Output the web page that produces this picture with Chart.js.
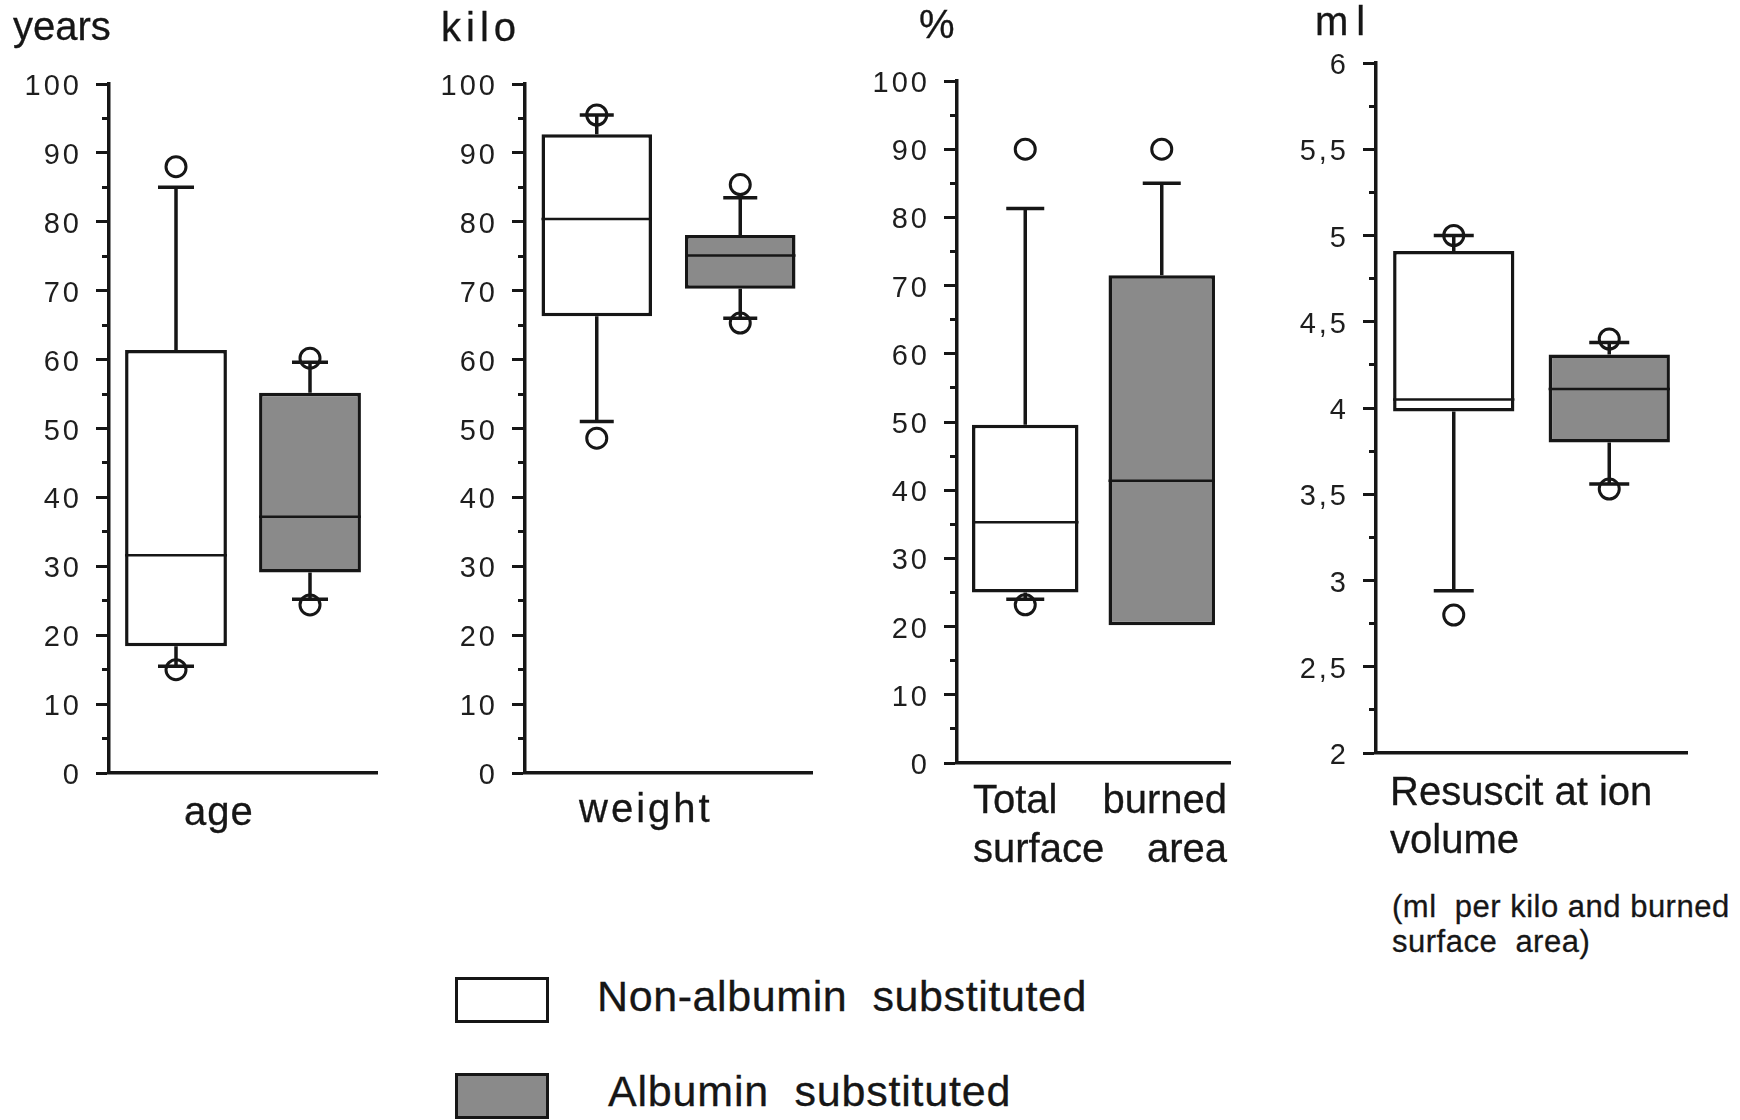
<!DOCTYPE html>
<html>
<head>
<meta charset="utf-8">
<title>Albumin substitution – patient characteristics</title>
<script src="https://cdn.jsdelivr.net/npm/chart.js@4"></script>
<style>
  body { margin: 0; background: #fff; }
  #page { position: relative; width: 1740px; height: 1120px; overflow: hidden;
          font-family: "Liberation Sans", Arial, sans-serif; color: #161616; }
  #page canvas { position: absolute; top: 0; }
  .lbl { position: absolute; white-space: pre; line-height: 1; -webkit-text-stroke: 0.3px #161616; }
  .two { position: absolute; white-space: pre; -webkit-text-stroke: 0.3px #161616; }
  .two .row { display: flex; justify-content: space-between; }
  .key { position: absolute; left: 455px; width: 88px; height: 40px; border: 3px solid #161616; }
</style>
</head>
<body>
<div id="page">
  <canvas id="ageChart" width="420" height="860" style="left:0px"></canvas>
  <canvas id="weightChart" width="420" height="860" style="left:420px"></canvas>
  <canvas id="areaChart" width="400" height="860" style="left:850px"></canvas>
  <canvas id="volumeChart" width="440" height="860" style="left:1270px"></canvas>

  <!-- units above each axis -->
  <div class="lbl" style="left:13px;top:6px;font-size:40px">years</div>
  <div class="lbl" style="left:441px;top:7px;font-size:40px;letter-spacing:5px">kilo</div>
  <div class="lbl" style="left:919px;top:4px;font-size:40px">%</div>
  <div class="lbl" style="left:1315px;top:1px;font-size:40px;letter-spacing:8px">ml</div>

  <!-- variable names under each panel -->
  <div class="lbl" style="left:184px;top:791px;font-size:40px;letter-spacing:1px">age</div>
  <div class="lbl" style="left:579px;top:788px;font-size:40px;letter-spacing:3px">weight</div>
  <div class="two" style="left:973px;top:775px;width:254px;font-size:40px;line-height:49px"><div class="row"><span>Total</span><span>burned</span></div><div class="row"><span>surface</span><span>area</span></div></div>
  <div class="two" style="left:1390px;top:767px;font-size:40px;line-height:48px">Resuscit at ion<br>volume</div>
  <div class="two" style="left:1392px;top:889px;font-size:31px;line-height:35px;letter-spacing:0.5px">(ml  per kilo and burned<br>surface  area)</div>

  <!-- legend -->
  <div class="key" style="top:977px;background:#ffffff"></div>
  <div class="lbl" style="left:597px;top:975px;font-size:43px;letter-spacing:0.6px">Non-albumin  substituted</div>
  <div class="key" style="top:1073px;background:#8a8a8a"></div>
  <div class="lbl" style="left:608px;top:1070px;font-size:43px;letter-spacing:0.8px">Albumin  substituted</div>
</div>

<script>
const groups = ['Non-albumin substituted', 'Albumin substituted'];

// each box: [lower whisker, q1, median, q3, upper whisker]
const ageNon = [15.5, 18.4, 31.6, 61.4, 85];
const ageAlb = [25.2, 29.1, 37.2, 55.2, 59.6];
const ageOutNon = [88, 15];
const ageOutAlb = [60.2, 24.4];

const weightNon = [51, 66.3, 80.4, 92.7, 95.5];
const weightAlb = [66, 70.3, 75.1, 78.1, 83.5];
const weightOutNon = [95.5, 48.6];
const weightOutAlb = [85.4, 65.3];

const areaNon = [24, 25, 35.3, 49.6, 81.3];
const areaAlb = [20.2, 20.2, 41.4, 71.5, 85];
const areaOutNon = [90, 23.2];
const areaOutAlb = [90];

const volumeNon = [2.94, 3.98, 4.05, 4.91, 5.0];
const volumeAlb = [3.56, 3.80, 4.11, 4.31, 4.38];
const volumeOutNon = [5.0, 2.80];
const volumeOutAlb = [4.40, 3.53];

const ink = '#161616';
const grey = '#8a8a8a';

// whiskers, caps and median lines for the floating bars
const whiskers = {
  id: 'whiskers',
  afterDatasetDraw(chart, args, opts) {
    if (args.index !== 0) return;
    const ctx = chart.ctx;
    const y = chart.scales.y;
    const stats = chart.data.datasets[0].stats;
    const cap = opts.cap / 2;
    ctx.save();
    ctx.strokeStyle = ink;
    args.meta.data.forEach((bar, i) => {
      const [lo, q1, med, q3, hi] = stats[i];
      const x = bar.x;
      const half = bar.width / 2;
      ctx.lineWidth = 3.5;
      ctx.beginPath();
      if (hi > q3) {
        ctx.moveTo(x, y.getPixelForValue(q3));
        ctx.lineTo(x, y.getPixelForValue(hi));
        ctx.moveTo(x - cap, y.getPixelForValue(hi));
        ctx.lineTo(x + cap, y.getPixelForValue(hi));
      }
      if (lo < q1) {
        ctx.moveTo(x, y.getPixelForValue(q1));
        ctx.lineTo(x, y.getPixelForValue(lo));
        ctx.moveTo(x - cap, y.getPixelForValue(lo));
        ctx.lineTo(x + cap, y.getPixelForValue(lo));
      }
      ctx.stroke();
      ctx.lineWidth = 2.5;
      ctx.beginPath();
      ctx.moveTo(x - half, y.getPixelForValue(med));
      ctx.lineTo(x + half, y.getPixelForValue(med));
      ctx.stroke();
    });
    ctx.restore();
  }
};

// spaced-out digits on the axes
const spacing = {
  id: 'spacing',
  beforeDraw(chart) { chart.ctx.letterSpacing = '3px'; },
  afterDraw(chart) { chart.ctx.letterSpacing = '0px'; }
};

function boxChart(id, non, alb, outNon, outAlb, o) {
  const outliers = outNon.map(v => ({ x: groups[0], y: v }))
    .concat(outAlb.map(v => ({ x: groups[1], y: v })));
  return new Chart(document.getElementById(id), {
    data: {
      labels: groups,
      datasets: [{
        type: 'bar',
        data: [[non[1], non[3]], [alb[1], alb[3]]],
        stats: [non, alb],
        backgroundColor: ['#ffffff', grey],
        borderColor: ink,
        borderWidth: 3.5,
        borderSkipped: false,
        barPercentage: 1,
        categoryPercentage: o.cat
      }, {
        type: 'line',
        data: outliers,
        showLine: false,
        pointStyle: 'circle',
        pointRadius: 10,
        pointBorderWidth: 3,
        pointBorderColor: ink,
        pointBackgroundColor: 'rgba(0,0,0,0)'
      }]
    },
    plugins: [whiskers, spacing],
    options: {
      responsive: false,
      animation: false,
      events: [],
      layout: { padding: { left: 0, right: o.right, top: o.top, bottom: o.bottom } },
      plugins: {
        legend: { display: false },
        tooltip: { enabled: false },
        whiskers: { cap: o.cap }
      },
      scales: {
        x: {
          type: 'category',
          offset: true,
          grid: { display: false },
          border: { display: true, width: 3.5, color: ink },
          ticks: { display: false },
          afterFit: s => { s.height = 0; }
        },
        y: {
          min: o.min,
          max: o.max,
          ticks: {
            stepSize: o.step,
            autoSkip: false,
            padding: 14,
            labelOffset: 3,
            color: '#1e1e1e',
            font: { family: '"Liberation Sans", Arial, sans-serif', size: 29 },
            callback: v => o.isMajor(v) ? String(+v.toFixed(2)).replace('.', ',') : ''
          },
          grid: {
            drawOnChartArea: false,
            drawTicks: true,
            tickLength: 13,
            tickWidth: 3,
            tickColor: ink,
            // minor ticks: skip the first 6px so they come out shorter
            tickBorderDash: c => (c.tick && o.isMajor(c.tick.value)) ? [] : [0, 6, 30]
          },
          border: { width: 3.5, color: ink },
          afterFit: s => { s.width = o.axisW; }
        }
      }
    }
  });
}

const tens = v => Math.abs(v / 10 - Math.round(v / 10)) < 1e-6;
const halves = v => Math.abs(v * 2 - Math.round(v * 2)) < 1e-6;

boxChart('ageChart', ageNon, ageAlb, ageOutNon, ageOutAlb,
  { min: 0, max: 100, step: 5, isMajor: tens, axisW: 109, right: 43, top: 84, bottom: 87, cat: 0.76, cap: 36 });
boxChart('weightChart', weightNon, weightAlb, weightOutNon, weightOutAlb,
  { min: 0, max: 100, step: 5, isMajor: tens, axisW: 105, right: 28, top: 84, bottom: 87, cat: 0.77, cap: 34 });
boxChart('areaChart', areaNon, areaAlb, areaOutNon, areaOutAlb,
  { min: 0, max: 100, step: 5, isMajor: tens, axisW: 107, right: 20, top: 81, bottom: 97, cat: 0.78, cap: 38 });
boxChart('volumeChart', volumeNon, volumeAlb, volumeOutNon, volumeOutAlb,
  { min: 2, max: 6, step: 0.25, isMajor: halves, axisW: 106, right: 23, top: 63, bottom: 107, cat: 0.78, cap: 40 });
</script>
</body>
</html>
